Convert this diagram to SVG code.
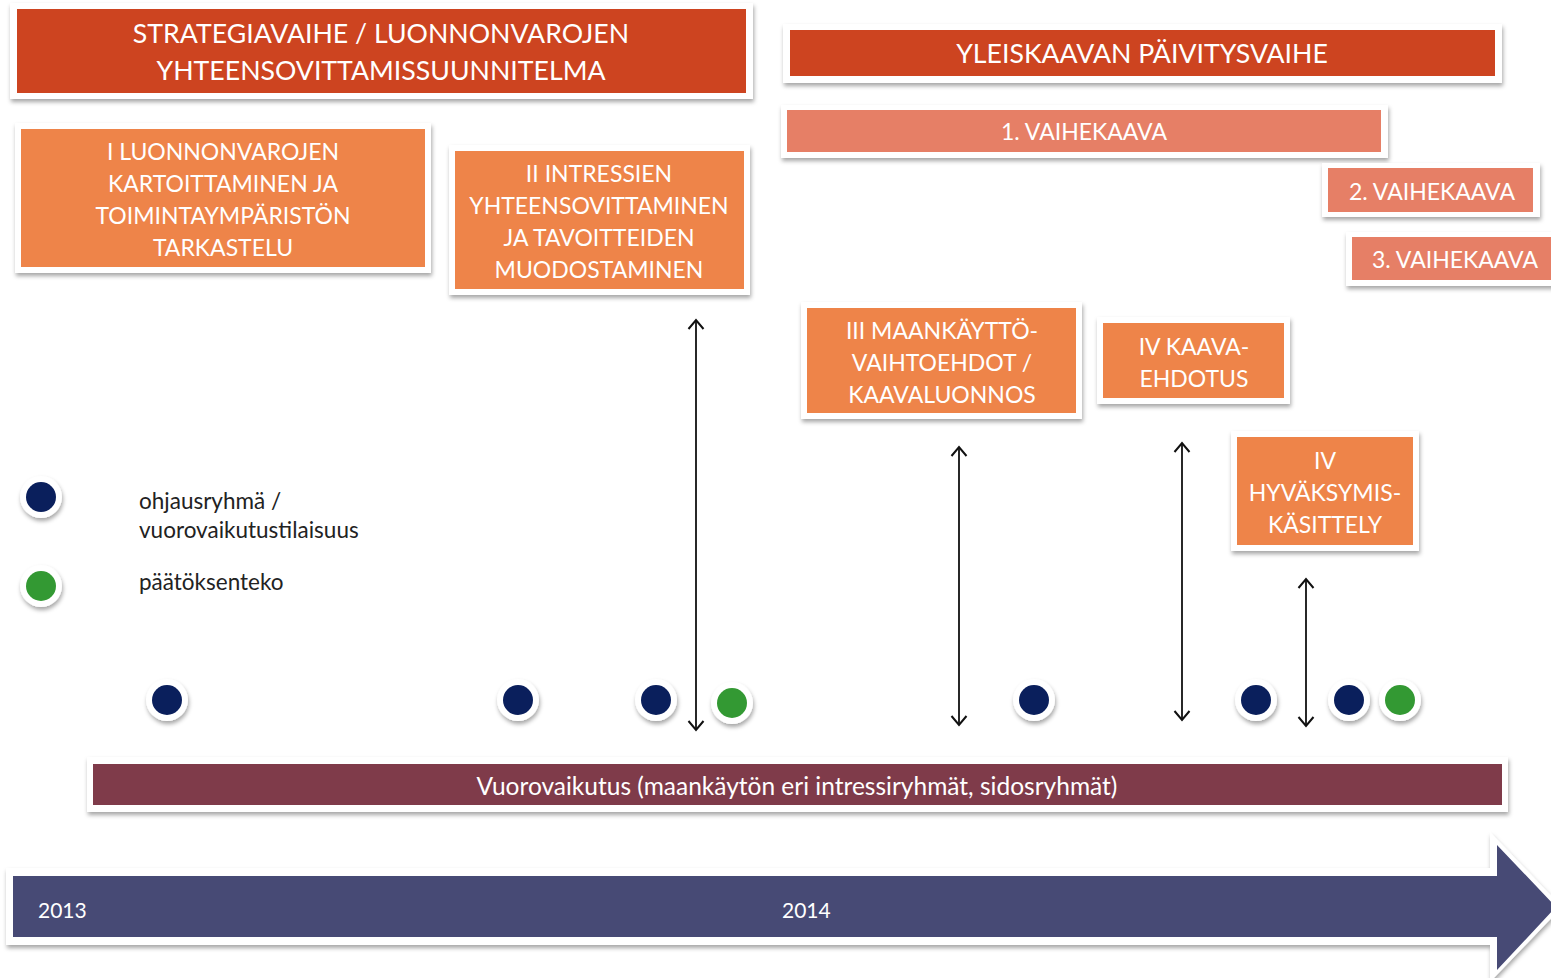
<svg xmlns="http://www.w3.org/2000/svg" width="1551" height="978" viewBox="0 0 1551 978">
<defs>
<filter id="sh" x="-5%" y="-20%" width="110%" height="150%">
<feDropShadow dx="1" dy="3" stdDeviation="2" flood-color="#000" flood-opacity="0.35"/>
</filter>
<filter id="dsh" x="-50%" y="-50%" width="200%" height="200%">
<feDropShadow dx="1" dy="3" stdDeviation="2" flood-color="#000" flood-opacity="0.35"/>
</filter>
<marker id="ah" viewBox="0 0 14 18" refX="12" refY="9" markerWidth="14" markerHeight="18" markerUnits="userSpaceOnUse" orient="auto-start-reverse">
<path d="M3,1.5 L12,9 L3,16.5" fill="none" stroke="#111" stroke-width="2"/>
</marker>
<style>
.frame{fill:#fff;filter:url(#sh)}
.red{fill:#CD4420}
.sal{fill:#E67F66}
.org{fill:#EE8449}
.wt{fill:#fff;font-family:Lato,"Open Sans",sans-serif;text-anchor:middle;dominant-baseline:central}
.t26{font-size:26.7px}
.t22{font-size:23px}
.lg{fill:#222;font-family:Lato,"Open Sans",sans-serif;font-size:22.5px}
.navy{fill:#0A1F5C}
.green{fill:#339933}
.ring{fill:#fff;filter:url(#dsh)}
.conn{stroke:#111;stroke-width:1.8;fill:none;marker-start:url(#ah);marker-end:url(#ah)}
</style>
</defs>

<g id="header-strategia">
<rect class="frame" x="10" y="3" width="743" height="96"/>
<rect class="red" x="17" y="9" width="729" height="84"/>
<text class="wt t26" x="381" y="33">STRATEGIAVAIHE / LUONNONVAROJEN</text>
<text class="wt t26" x="381" y="70">YHTEENSOVITTAMISSUUNNITELMA</text>
</g>

<g id="header-yleiskaava">
<rect class="frame" x="783" y="24" width="719" height="59"/>
<rect class="red" x="790" y="30" width="705" height="46"/>
<text class="wt t26" x="1142" y="53">YLEISKAAVAN PÄIVITYSVAIHE</text>
</g>

<g id="vaihekaava1">
<rect class="frame" x="781" y="105" width="607" height="53"/>
<rect class="sal" x="787" y="110" width="594" height="42"/>
<text class="wt t22" x="1084" y="131">1. VAIHEKAAVA</text>
</g>

<g id="vaihekaava2">
<rect class="frame" x="1322" y="163" width="218" height="54"/>
<rect class="sal" x="1328" y="168" width="205" height="44"/>
<text class="wt t22" x="1432" y="191">2. VAIHEKAAVA</text>
</g>

<g id="vaihekaava3">
<rect class="frame" x="1346" y="232" width="215" height="54"/>
<rect class="sal" x="1352" y="237" width="205" height="43"/>
<text class="wt t22" x="1455" y="259">3. VAIHEKAAVA</text>
</g>

<g id="node-I">
<rect class="frame" x="15" y="123" width="416" height="150"/>
<rect class="org" x="21" y="129" width="404" height="138"/>
<text class="wt t22" x="223" y="151">I LUONNONVAROJEN</text>
<text class="wt t22" x="223" y="183">KARTOITTAMINEN JA</text>
<text class="wt t22" x="223" y="215">TOIMINTAYMPÄRISTÖN</text>
<text class="wt t22" x="223" y="247">TARKASTELU</text>
</g>

<g id="node-II">
<rect class="frame" x="449" y="145" width="301" height="150"/>
<rect class="org" x="455" y="151" width="289" height="138"/>
<text class="wt t22" x="599" y="173">II INTRESSIEN</text>
<text class="wt t22" x="599" y="205">YHTEENSOVITTAMINEN</text>
<text class="wt t22" x="599" y="237">JA TAVOITTEIDEN</text>
<text class="wt t22" x="599" y="269">MUODOSTAMINEN</text>
</g>

<g id="node-III">
<rect class="frame" x="801" y="302" width="281" height="117"/>
<rect class="org" x="807" y="308" width="269" height="105"/>
<text class="wt t22" x="942" y="330">III MAANKÄYTTÖ-</text>
<text class="wt t22" x="942" y="362">VAIHTOEHDOT /</text>
<text class="wt t22" x="942" y="394">KAAVALUONNOS</text>
</g>

<g id="node-IV-ehdotus">
<rect class="frame" x="1097" y="317" width="193" height="87"/>
<rect class="org" x="1103" y="323" width="181" height="75"/>
<text class="wt t22" x="1194" y="346">IV KAAVA-</text>
<text class="wt t22" x="1194" y="378">EHDOTUS</text>
</g>

<g id="node-IV-hyvaksymis">
<rect class="frame" x="1231" y="431" width="188" height="120"/>
<rect class="org" x="1237" y="437" width="176" height="108"/>
<text class="wt t22" x="1325" y="460">IV</text>
<text class="wt t22" x="1325" y="492">HYVÄKSYMIS-</text>
<text class="wt t22" x="1325" y="524">KÄSITTELY</text>
</g>

<g id="legend">
<circle class="ring" cx="41" cy="497" r="21"/>
<circle class="navy" cx="41" cy="497" r="15"/>
<circle class="ring" cx="41" cy="586" r="21"/>
<circle class="green" cx="41" cy="586" r="15"/>
<text class="lg" x="139" y="509">ohjausryhmä /</text>
<text class="lg" x="139" y="538">vuorovaikutustilaisuus</text>
<text class="lg" x="139" y="590">päätöksenteko</text>
</g>

<g id="dots">
<circle class="ring" cx="167" cy="700" r="21"/><circle class="navy" cx="167" cy="700" r="15"/>
<circle class="ring" cx="518" cy="700" r="21"/><circle class="navy" cx="518" cy="700" r="15"/>
<circle class="ring" cx="656" cy="700" r="21"/><circle class="navy" cx="656" cy="700" r="15"/>
<circle class="ring" cx="732" cy="703" r="21"/><circle class="green" cx="732" cy="703" r="15"/>
<circle class="ring" cx="1034" cy="700" r="21"/><circle class="navy" cx="1034" cy="700" r="15"/>
<circle class="ring" cx="1256" cy="700" r="21"/><circle class="navy" cx="1256" cy="700" r="15"/>
<circle class="ring" cx="1349" cy="700" r="21"/><circle class="navy" cx="1349" cy="700" r="15"/>
<circle class="ring" cx="1400" cy="700" r="21"/><circle class="green" cx="1400" cy="700" r="15"/>
</g>

<g id="connectors">
<line class="conn" x1="696" y1="320" x2="696" y2="730"/>
<line class="conn" x1="959" y1="447" x2="959" y2="725"/>
<line class="conn" x1="1182" y1="443" x2="1182" y2="720"/>
<line class="conn" x1="1306" y1="579" x2="1306" y2="726"/>
</g>

<g id="vuorovaikutus">
<rect class="frame" x="87" y="757" width="1421" height="55"/>
<rect x="93" y="764" width="1409" height="41" fill="#7F3B4A"/>
<text class="wt" style="font-size:24.5px" x="797" y="785">Vuorovaikutus (maankäytön eri intressiryhmät, sidosryhmät)</text>
</g>

<g id="timeline">
<path class="frame" d="M6,868 L1490,868 L1490,832 L1562,907 L1490,982 L1490,945 L6,945 Z"/>
<path d="M13,876 L1497,876 L1497,845 L1556,907 L1497,970 L1497,937 L13,937 Z" fill="#474A75"/>
<text class="wt" style="font-size:21px;text-anchor:start" x="38" y="909">2013</text>
<text class="wt" style="font-size:21px;text-anchor:start" x="782" y="909">2014</text>
</g>
</svg>
